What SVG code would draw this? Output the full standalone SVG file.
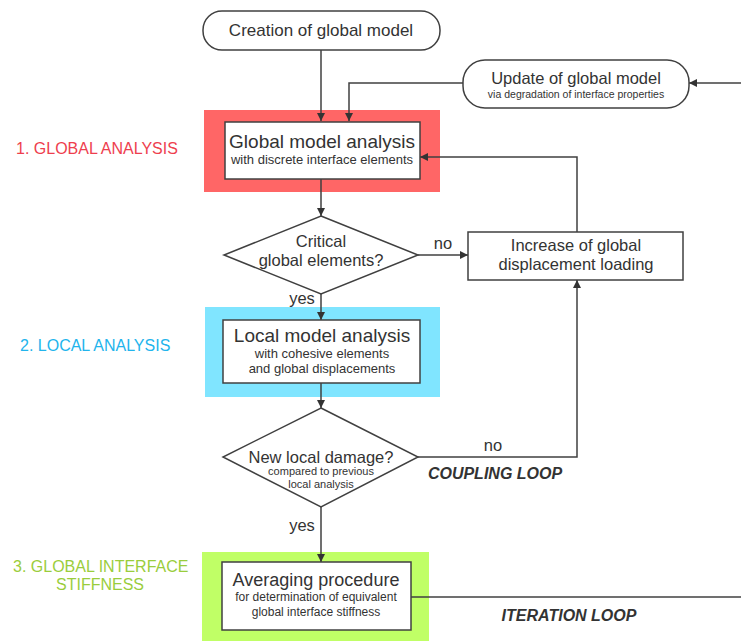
<svg xmlns="http://www.w3.org/2000/svg" width="741" height="641" viewBox="0 0 741 641">
<style>
text{font-family:"Liberation Sans",Arial,sans-serif;fill:#333;text-anchor:middle}
.box{fill:#fff;stroke:#404040;stroke-width:1.5}
.ln{fill:none;stroke:#404040;stroke-width:1.5}
.t16{font-size:16.5px}
.t19{font-size:19px}
.t13{font-size:13px}
.t11{font-size:11px}
.loop{font-size:16px;font-weight:bold;font-style:italic}
.lab{font-size:16px;text-anchor:start}
</style>
<defs>
<marker id="ah" viewBox="0 0 10 10" refX="10" refY="5" markerWidth="8" markerHeight="8" markerUnits="userSpaceOnUse" orient="auto">
<path d="M0,0L10,5L0,10z" fill="#333"/>
</marker>
</defs>
<rect x="204" y="110" width="236" height="82" fill="#ff6666"/>
<rect x="205" y="307" width="235" height="90" fill="#80e5ff"/>
<rect x="202" y="552" width="227" height="89" fill="#c0ff66"/>
<text class="lab" x="16" y="154" style="fill:#ee3e4e">1. GLOBAL ANALYSIS</text>
<text class="lab" x="20" y="351" style="fill:#22b4ec">2. LOCAL ANALYSIS</text>
<text class="lab" x="13" y="572" style="fill:#9acd3c">3. GLOBAL INTERFACE</text>
<text class="lab" x="56" y="590" style="fill:#9acd3c">STIFFNESS</text>
<g id="connectors">
<path class="ln" d="M321,50V121" marker-end="url(#ah)"/>
<path class="ln" d="M741,83H689" marker-end="url(#ah)"/>
<path class="ln" d="M463,83H349V121" marker-end="url(#ah)"/>
<path class="ln" d="M321,179V216" marker-end="url(#ah)"/>
<path class="ln" d="M418,255H468" marker-end="url(#ah)"/>
<path class="ln" d="M577,232V157H420" marker-end="url(#ah)"/>
<path class="ln" d="M321,294V320" marker-end="url(#ah)"/>
<path class="ln" d="M321,383V408" marker-end="url(#ah)"/>
<path class="ln" d="M418,457H577V280" marker-end="url(#ah)"/>
<path class="ln" d="M321,507V562" marker-end="url(#ah)"/>
<path class="ln" d="M411,597H741"/>
<text class="t16" x="443" y="249">no</text>
<text class="t16" x="302" y="304">yes</text>
<text class="t16" x="493" y="451">no</text>
<text class="t16" x="302" y="531">yes</text>
<text class="loop" x="495" y="479">COUPLING LOOP</text>
<text class="loop" x="569" y="621">ITERATION LOOP</text>
</g>
<g id="creation">
<rect class="box" x="203" y="11" width="237" height="39" rx="19"/>
<text class="t16" x="321" y="36" style="font-size:17px">Creation of global model</text>
</g>
<g id="update">
<rect class="box" x="463" y="60" width="226" height="48" rx="22"/>
<text class="t16" x="576" y="84">Update of global model</text>
<text x="576" y="98" style="font-size:10.5px">via degradation of interface properties</text>
</g>
<g id="global">
<rect class="box" x="225" y="122" width="195" height="57"/>
<text class="t19" x="322" y="148">Global model analysis</text>
<text class="t13" x="322" y="164">with discrete interface elements</text>
</g>
<g id="critical">
<path class="box" d="M321,216L418,255L321,294L224,255z"/>
<text class="t16" x="321" y="247">Critical</text>
<text class="t16" x="321" y="266">global elements?</text>
</g>
<g id="increase">
<rect class="box" x="468" y="232" width="215" height="48"/>
<text class="t16" x="576" y="251">Increase of global</text>
<text class="t16" x="576" y="270">displacement loading</text>
</g>
<g id="local">
<rect class="box" x="223" y="320" width="197" height="63"/>
<text class="t19" x="322" y="342">Local model analysis</text>
<text class="t13" x="322" y="358">with cohesive elements</text>
<text class="t13" x="322" y="373">and global displacements</text>
</g>
<g id="damage">
<path class="box" d="M321,408L418,457L321,507L223,457z"/>
<text class="t16" x="321" y="463">New local damage?</text>
<text class="t11" x="321" y="475">compared to previous</text>
<text class="t11" x="321" y="488">local analysis</text>
</g>
<g id="averaging">
<rect class="box" x="222" y="562" width="189" height="68"/>
<text x="316" y="586" style="font-size:18px">Averaging procedure</text>
<text x="316" y="601" style="font-size:12px">for determination of equivalent</text>
<text x="316" y="616" style="font-size:12px">global interface stiffness</text>
</g>
</svg>
